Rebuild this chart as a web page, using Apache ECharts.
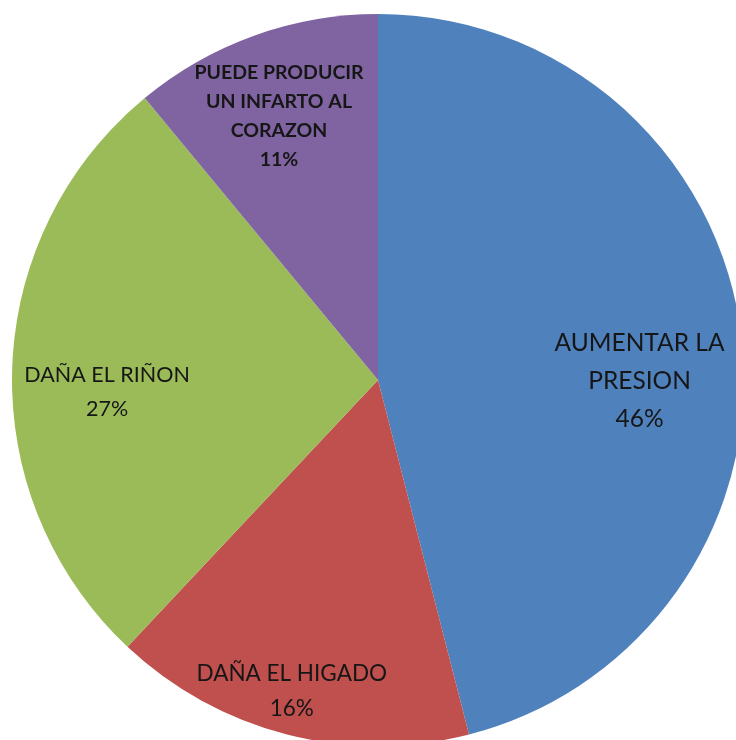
<!DOCTYPE html>
<html>
<head>
<meta charset="utf-8">
<script src="https://cdn.jsdelivr.net/npm/echarts@6/dist/echarts.min.js"></script>
<style>
  html, body { margin: 0; padding: 0; background: #ffffff; }
  #chart { width: 736px; height: 740px; }
</style>
</head>
<body>
<div id="chart"></div>
<script>
// Slice names and their shares (percent)
const categories = [
  'AUMENTAR LA\nPRESION',
  'DAÑA EL HIGADO',
  'DAÑA EL RIÑON',
  'PUEDE PRODUCIR\nUN INFARTO AL\nCORAZON'
];
const values = [46, 16, 27, 11];

const colors = ['#4f81bd', '#c0504d', '#9bbb59', '#8064a2'];
// per-slice label styling and nudges from the default "inside" spot
const labelSizes = [24.5, 22.5, 21.5, 19.5];
const lineHeights = [38, 35, 34, 29];
const labelShift = [[77, 24], [-40, 131], [-85, 18], [-36, -89]];

const chart = echarts.init(document.getElementById('chart'), null, { renderer: 'canvas' });

chart.setOption({
  animation: false,
  backgroundColor: '#ffffff',
  series: [{
    type: 'pie',
    center: [378, 380],
    radius: [0, 366],
    startAngle: 90,
    clockwise: true,
    silent: true,
    itemStyle: { borderWidth: 0 },
    label: {
      show: true,
      position: 'inside',
      fontFamily: 'Lato',
      color: '#161616',
      align: 'center',
      formatter: p => p.name + '\n' + p.value + '%'
    },
    labelLine: { show: false },
    labelLayout: p => ({ dx: labelShift[p.dataIndex][0], dy: labelShift[p.dataIndex][1] }),
    data: categories.map((name, i) => ({
      name: name,
      value: values[i],
      itemStyle: { color: colors[i] },
      label: {
        fontSize: labelSizes[i],
        lineHeight: lineHeights[i],
        fontWeight: i === 3 ? 'bold' : 'normal'
      }
    }))
  }]
});
</script>
</body>
</html>
